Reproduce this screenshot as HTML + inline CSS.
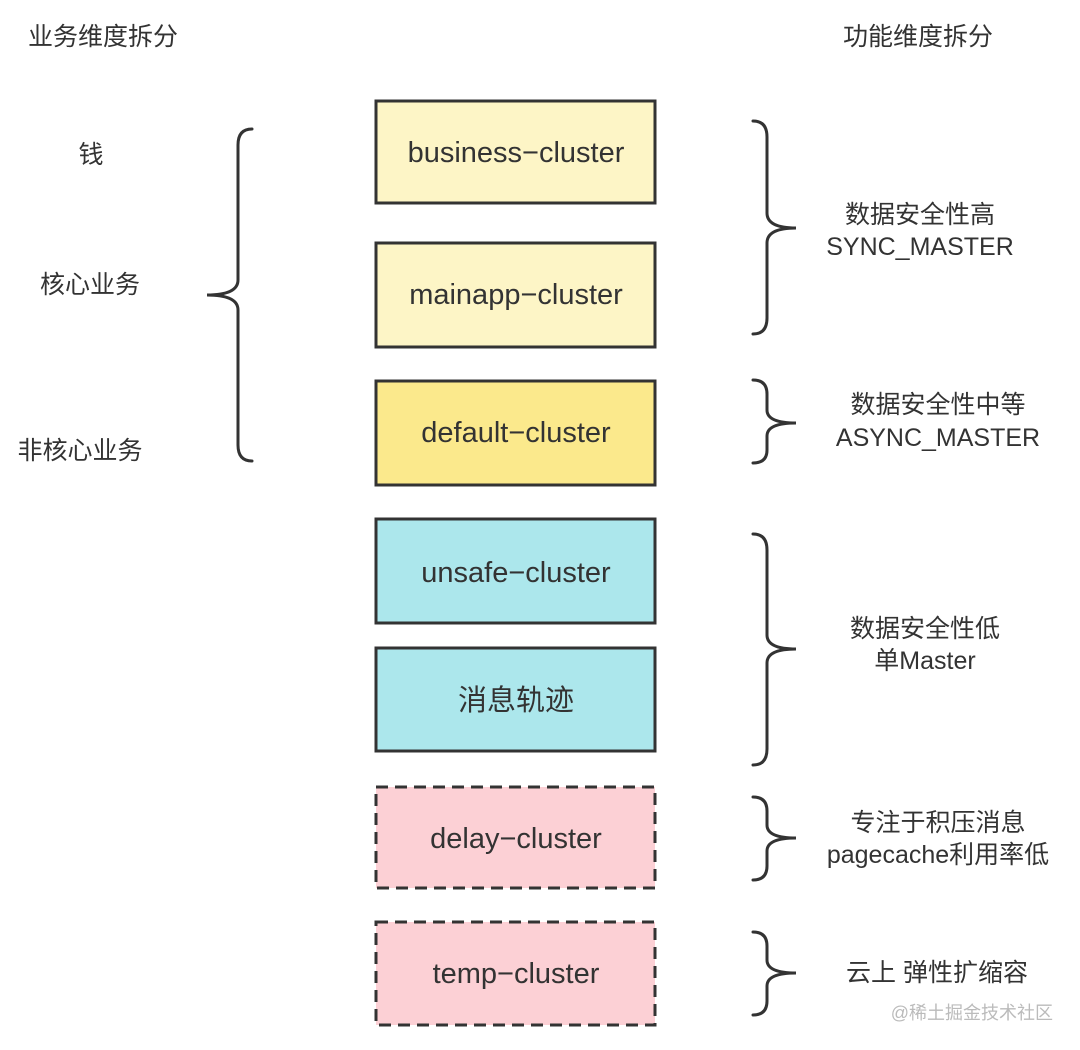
<!DOCTYPE html>
<html><head><meta charset="utf-8"><style>
html,body{margin:0;padding:0;background:#fff;}
svg{display:block;}
text{font-family:"Liberation Sans","Noto Sans CJK SC",sans-serif;fill:#333;}
</style></head><body>
<svg width="1080" height="1050" viewBox="0 0 1080 1050" xmlns="http://www.w3.org/2000/svg">
<g font-size="25">
<text x="28" y="45">业务维度拆分</text>
<text x="843" y="45">功能维度拆分</text>
<text x="91" y="163" text-anchor="middle">钱</text>
<text x="90" y="293" text-anchor="middle">核心业务</text>
<text x="80" y="459" text-anchor="middle">非核心业务</text>
<text x="920" y="223" text-anchor="middle">数据安全性高</text>
<text x="920" y="255" text-anchor="middle">SYNC_MASTER</text>
<text x="938" y="413" text-anchor="middle">数据安全性中等</text>
<text x="938" y="446" text-anchor="middle">ASYNC_MASTER</text>
<text x="925" y="637" text-anchor="middle">数据安全性低</text>
<text x="925" y="669" text-anchor="middle">单Master</text>
<text x="938" y="831" text-anchor="middle">专注于积压消息</text>
<text x="938" y="863" text-anchor="middle">pagecache利用率低</text>
<text x="937" y="981" text-anchor="middle">云上 弹性扩缩容</text>
</g>
<text x="1053" y="1019" text-anchor="end" font-size="18" style="fill:#bbb">@稀土掘金技术社区</text>
<g stroke="#333" stroke-width="3">
<rect x="376" y="101" width="279" height="102" fill="#fdf5c6"/>
<rect x="376" y="243" width="279" height="104" fill="#fdf5c6"/>
<rect x="376" y="381" width="279" height="104" fill="#fbe98c"/>
<rect x="376" y="519" width="279" height="104" fill="#ace7ec"/>
<rect x="376" y="648" width="279" height="103" fill="#ace7ec"/>
<rect x="376" y="787" width="279" height="101" fill="#fcd0d5" stroke-dasharray="12,7"/>
<rect x="376" y="922" width="279" height="103" fill="#fcd0d5" stroke-dasharray="12,7"/>
</g>
<g font-size="29" text-anchor="middle">
<text x="516" y="162">business−cluster</text>
<text x="516" y="304">mainapp−cluster</text>
<text x="516" y="442">default−cluster</text>
<text x="516" y="582">unsafe−cluster</text>
<text x="516" y="710">消息轨迹</text>
<text x="516" y="848">delay−cluster</text>
<text x="516" y="983">temp−cluster</text>
</g>
<g fill="none" stroke="#333" stroke-width="3" stroke-linecap="round">
<path d="M252 129 Q238 129 238 145 L238 280 Q238 295 207 295 Q238 295 238 310 L238 445 Q238 461 252 461"/>
<path d="M753 121 Q767 121 767 137 L767 213 Q767 228 796 228 Q767 228 767 243 L767 318 Q767 334 753 334"/>
<path d="M753 380 Q767 380 767 394 L767 410 Q767 423 796 423 Q767 423 767 436 L767 450 Q767 463 753 463"/>
<path d="M753 534 Q767 534 767 550 L767 635 Q767 649 796 649 Q767 649 767 663 L767 749 Q767 765 753 765"/>
<path d="M753 797 Q767 797 767 811 L767 825 Q767 838 796 838 Q767 838 767 851 L767 866 Q767 880 753 880"/>
<path d="M753 932 Q767 932 767 946 L767 960 Q767 973 796 973 Q767 973 767 986 L767 1001 Q767 1015 753 1015"/>
</g>
</svg>
</body></html>
